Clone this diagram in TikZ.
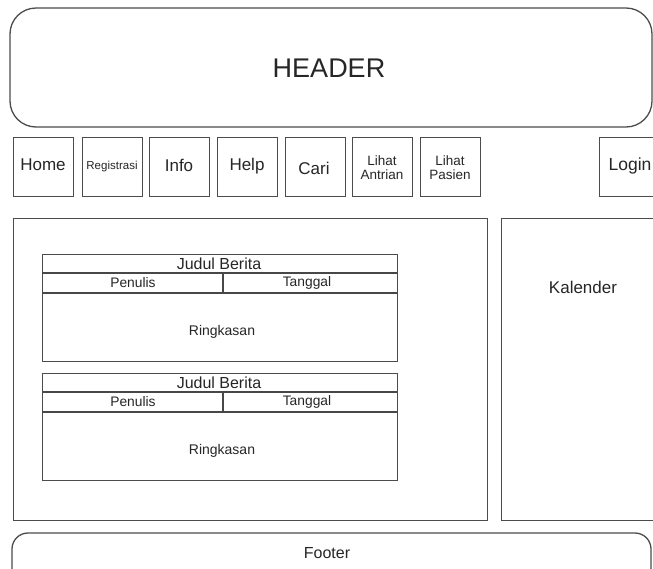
\documentclass[tikz,border=0pt]{standalone}
\usepackage{fontspec}
\setmainfont{Liberation Sans}
\begin{document}
\begin{tikzpicture}[x=1pt,y=-1pt,
  ln/.style={draw=black!70,line width=1.3pt},
  thk/.style={draw=black!72,line width=2.6pt},
  box/.style={ln,rectangle,inner sep=0pt,anchor=north west},
  lbl/.style={inner sep=0pt,text=black!85,align=center}]
\useasboundingbox (0,0) rectangle (653,568);
\clip (0,0) rectangle (653,568);
\fill[white] (0,0) rectangle (653,568);
% header
\draw[ln,rounded corners=26pt] (10,8) rectangle (652,127);
\node[lbl,font=\fontsize{27}{30}\selectfont] (header) at (329,68) {HEADER};
% menu buttons
\node[box,minimum width=60pt,minimum height=59pt] (home) at (13,137) {};
\node[box,minimum width=60pt,minimum height=59pt] (reg) at (82,137) {};
\node[box,minimum width=60pt,minimum height=59pt] (info) at (149,137) {};
\node[box,minimum width=60pt,minimum height=59pt] (help) at (217,137) {};
\node[box,minimum width=60pt,minimum height=59pt] (cari) at (285,137) {};
\node[box,minimum width=60pt,minimum height=59pt] (antri) at (352,137) {};
\node[box,minimum width=60pt,minimum height=59pt] (pasien) at (420,137) {};
\node[box,minimum width=70pt,minimum height=59pt] (login) at (599,137) {};
\node[lbl,font=\fontsize{17}{20}\selectfont] at (43,165) {Home};
\node[lbl,font=\fontsize{11.5}{14}\selectfont] at (112,167) {Registrasi};
\node[lbl,font=\fontsize{17}{20}\selectfont] at (179,165) {Info};
\node[lbl,font=\fontsize{17}{20}\selectfont] at (247,166) {Help};
\node[lbl,font=\fontsize{17}{20}\selectfont] at (314,168) {Cari};
\node[lbl,font=\fontsize{13.5}{14}\selectfont] at (382,168) {Lihat\\Antrian};
\node[lbl,font=\fontsize{13.5}{14}\selectfont] at (450,168) {Lihat\\Pasien};
\node[lbl,font=\fontsize{17.5}{20}\selectfont] at (630,166) {Login};
% content
\node[box,minimum width=474pt,minimum height=302pt] (content) at (13,218) {};
\node[box,minimum width=170pt,minimum height=302pt] (kal) at (501,218) {};
\node[lbl,font=\fontsize{17}{20}\selectfont] at (583,287) {Kalender};
% news blocks
\foreach \n/\t in {a/254,b/373}{
  \node[box,minimum width=355pt,minimum height=107pt] (blk\n) at (42,\t) {};
  \draw[thk] (42,\t+19) -- (397,\t+19);
  \draw[thk] (42,\t+39) -- (397,\t+39);
  \draw[thk] (223,\t+19) -- (223,\t+39);
  \node[lbl,font=\fontsize{16}{18}\selectfont] at (219,\t+10) {Judul Berita};
  \node[lbl,font=\fontsize{13.8}{16}\selectfont] at (133,\t+29) {Penulis};
  \node[lbl,font=\fontsize{13.8}{16}\selectfont] at (307,\t+29) {Tanggal};
  \node[lbl,font=\fontsize{14}{16}\selectfont] at (222,\t+78) {Ringkasan};
}
% footer
\draw[ln,rounded corners=16pt] (12,533) rectangle (651,600);
\node[lbl,font=\fontsize{16}{18}\selectfont] (footer) at (327,553) {Footer};
\end{tikzpicture}
\end{document}
